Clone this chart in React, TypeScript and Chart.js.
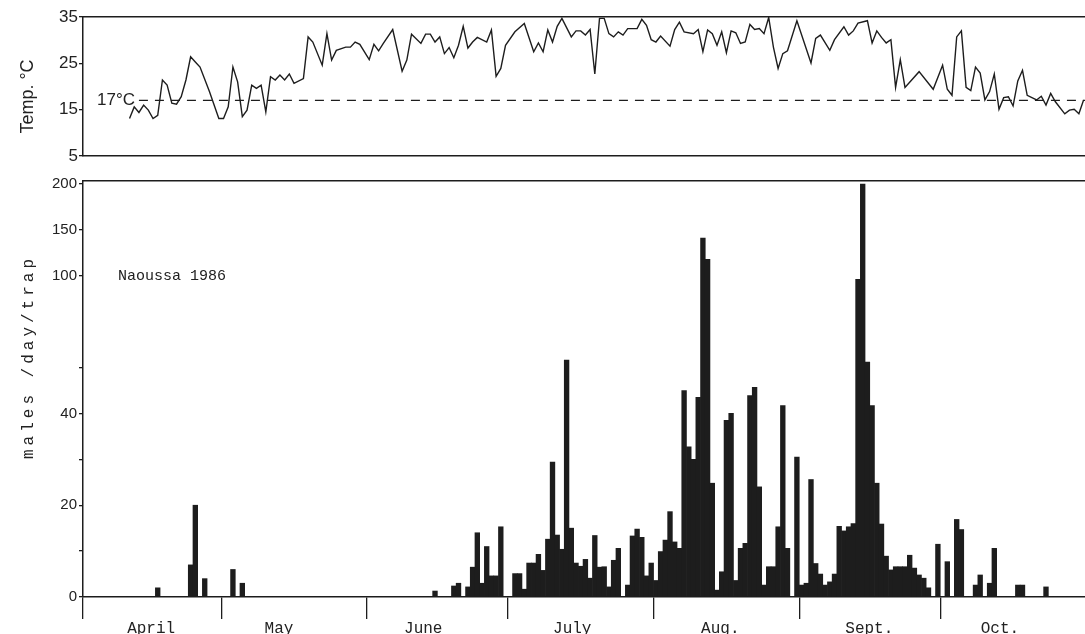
import React, { useEffect, useRef } from 'react';
import { Chart, registerables, LinearScale } from 'chart.js';

Chart.register(...registerables);

// ---------- DATA ----------
// Daily trap catches (males/day/trap), 1 April .. 31 October 1986
const aprilCounts = [0,0,0,0,0,0,0,0,0,0, 0,0,0,0,0,0,2,0,0,0, 0,0,0,7,20,0,4,0,0,0];
const mayCounts = [0,0,6,0,3,0,0,0,0,0, 0,0,0,0,0,0,0,0,0,0, 0,0,0,0,0,0,0,0,0,0, 0];
const juneCounts = [0,0,0,0,0,0,0,0,0,0, 0,0,0,0,1.3,0,0,0,2.4,3, 0,2.2,6.5,14,3,11,4.6,4.6,15.3,0];
const julyCounts = [0,5.1,5.1,1.7,7.4,7.4,9.3,5.8,12.6,29.4, 13.5,10.4,54,15,7.4,6.7,8.2,4.1,13.4,6.5, 6.6,2.2,8,10.6,0,2.6,13.3,14.8,13,4.6, 7.4];
const augCounts = [3.6,9.9,12.4,18.6,12,10.6,45,32.7,30,43.5, 141,118,24.8,1.5,5.5,38.5,40,3.6,10.6,11.7, 43.9,45.7,24,2.6,6.6,6.6,15.3,41.7,10.6,0, 30.5];
const septCounts = [2.6,3,25.6,7.3,5,2.6,3.3,5,15.4,14.4, 15.3,16,98,200,53,41.7,24.8,15.9,8.9,5.9, 6.6,6.6,6.6,9.1,6.3,4.8,4.1,2,0,11.5];
const octCounts = [0,7.7,0,16.9,14.7,0,0,2.6,4.8,0, 3,10.6,0,0,0,0,2.6,2.6,0,0, 0,0,2.2,0,0,0,0,0,0,0, 0];

// Daily temperature (day index from 1 April, °C)
const tempDays = [10,11,12,13,14,15,16,17,18,19,20,21,22,23,24,25,27,29,30,31,32,33,34,35,36,37,38,39,40,41,42,43,44,45,47,48,49,51,52,53,54,56,57,58,59,61,62,63,64,66,68,69,70,72,73,74,75,76,77,78,79,80,81,82,83,84,86,87,88,89,90,92,94,96,97,98,99,100,101,102,104,105,106,107,108,109,110,111,112,113,114,115,116,118,119,120,121,122,123,125,126,127,128,130,131,132,133,134,135,136,137,138,139,140,141,142,143,144,145,146,147,148,149,150,152,155,156,157,159,160,162,163,164,165,167,168,169,170,171,172,173,174,175,178,181,183,184,185,186,187,188,189,190,191,192,193,194,195,196,197,198,199,200,201,203,204,205,206,207,209,210,211,212,213];
const tempValues = [13.1,15.6,14.4,16,14.9,13.1,13.8,21.4,20.3,16.4,16.2,17.8,21.4,26.4,25.3,24.2,18.9,13.1,13.1,15.6,24.2,21,13.5,14.9,20.3,19.6,20.3,14.5,22.1,21.4,22.5,21.4,22.7,20.7,21.7,30.7,29.6,24.6,31.4,25.7,27.8,28.5,28.5,29.6,29.1,25.8,29.1,27.7,29.3,32.3,23.3,25.7,31.3,29.3,31.3,31.3,29.6,30.7,27.1,28.4,26.2,28.9,33,28.3,29.6,30.6,29.6,32.2,22.2,23.9,28.9,31.8,33.6,27.5,29.4,27.5,32.2,29.6,33,34.7,30.7,32,32,31.1,32.3,22.7,34.7,34.7,31.4,30.7,31.8,31.1,32.5,32.5,34.5,33.2,30.1,29.6,30.9,28.7,32.3,33.9,31.8,31.4,32.3,27.5,32.2,31.4,28.9,31.8,27.3,32,31.6,29.3,29.6,33.4,32.3,32.5,31.4,34.9,28.5,23.9,27.1,27.7,34.2,25.1,30.4,31.1,27.8,30.1,32.9,31.1,32,33.7,34.2,29.4,32,30.6,29.4,30.1,19.8,25.8,19.8,23.2,19.4,24.6,19.4,18.1,30.7,32,19.8,19.1,24.2,22.9,17.1,18.9,22.7,15.1,17.6,17.8,15.8,21.2,23.5,18.1,17.1,17.9,16,18.5,16.7,14.1,14.9,15.1,14.1,17.1];

const thresholdTemp = 17;
const thresholdStartDay = 12.5;

const monthNames = ['April', 'May', 'June', 'July', 'Aug.', 'Sept.', 'Oct.'];
const monthStartDays = [30, 61, 91, 122, 153, 183];
const monthLabelDays = [15.1, 42.3, 73, 104.7, 136.2, 167.9, 195.7];

const tempTicks = [5, 15, 25, 35];
const countTickValues = [0, 10, 20, 30, 40, 50, 100, 150, 200];
const countTickLabels = ['0', '', '20', '', '40', '', '100', '150', '200'];

// broken (piecewise) count axis: value -> axis units
const breakValues = [0, 50, 100, 200];
const breakUnits = [0, 50, 70, 90];

const dailyCounts = [...aprilCounts, ...mayCounts, ...juneCounts, ...julyCounts, ...augCounts, ...septCounts, ...octCounts];

const X_MIN = 0.6;
const X_MAX = 213.8;

const INK = '#1d1d1d';
const TEXT = '#222';

function toAxisUnits(v: number) {
  const n = breakValues.length;
  for (let i = 1; i < n; i++) {
    if (v <= breakValues[i] || i === n - 1) {
      const t = (v - breakValues[i - 1]) / (breakValues[i] - breakValues[i - 1]);
      return breakUnits[i - 1] + t * (breakUnits[i] - breakUnits[i - 1]);
    }
  }
  return v;
}
function fromAxisUnits(u: number) {
  const n = breakUnits.length;
  for (let i = 1; i < n; i++) {
    if (u <= breakUnits[i] || i === n - 1) {
      const t = (u - breakUnits[i - 1]) / (breakUnits[i] - breakUnits[i - 1]);
      return breakValues[i - 1] + t * (breakValues[i] - breakValues[i - 1]);
    }
  }
  return u;
}

class BrokenLinearScale extends LinearScale {
  static id = 'brokenLinear';
  static defaults = {};
  getPixelForValue(value: any) {
    return super.getPixelForValue(toAxisUnits(value));
  }
  getValueForPixel(pixel: number) {
    return fromAxisUnits(super.getValueForPixel(pixel) as number);
  }
}
Chart.register(BrokenLinearScale as any);

const topTextPlugin = {
  id: 'topText',
  afterDraw(chart: any) {
    const { ctx, chartArea, scales } = chart;
    const y17 = scales.y.getPixelForValue(thresholdTemp);
    ctx.save();
    ctx.fillStyle = TEXT;
    ctx.font = '17px "Liberation Sans"';
    ctx.textBaseline = 'middle';
    ctx.textAlign = 'left';
    ctx.fillText('17°C', chartArea.left + 14, y17);
    ctx.translate(33, (chartArea.top + chartArea.bottom) / 2 + 10);
    ctx.rotate(-Math.PI / 2);
    ctx.textAlign = 'center';
    ctx.textBaseline = 'alphabetic';
    ctx.font = '18px "Liberation Sans"';
    ctx.fillText('Temp. °C', 0, 0);
    ctx.restore();
  },
};

const bottomTextPlugin = {
  id: 'bottomText',
  afterDraw(chart: any) {
    const { ctx, chartArea, scales } = chart;
    ctx.save();
    ctx.fillStyle = TEXT;
    ctx.font = '15px "Liberation Mono"';
    ctx.textBaseline = 'middle';
    ctx.textAlign = 'left';
    ctx.fillText('Naoussa 1986', chartArea.left + 35, scales.y.getPixelForValue(100));
    ctx.translate(33, chartArea.top + 176);
    ctx.rotate(-Math.PI / 2);
    ctx.textAlign = 'center';
    ctx.textBaseline = 'alphabetic';
    ctx.font = '16px "Liberation Mono"';
    try { (ctx as any).letterSpacing = '4px'; } catch (e) {}
    ctx.fillText('males /day/trap', 0, 0);
    ctx.restore();
  },
};

const borderOnlyX = (position: string) => ({
  type: 'linear',
  position,
  min: X_MIN,
  max: X_MAX,
  offset: false,
  grid: { display: false, drawTicks: false, offset: false },
  ticks: { display: false },
  border: { display: true, color: INK, width: 1.5 },
  afterFit: (s: any) => { s.height = 0; },
});

export default function App() {
  const topRef = useRef<HTMLCanvasElement>(null);
  const bottomRef = useRef<HTMLCanvasElement>(null);

  useEffect(() => {
    const top = new Chart(topRef.current as HTMLCanvasElement, {
      type: 'line',
      data: {
        datasets: [
          {
            data: tempDays.map((d, i) => ({ x: d + 0.5, y: tempValues[i] })),
            borderColor: INK,
            borderWidth: 1.4,
            pointRadius: 0,
            tension: 0,
            fill: false,
          },
          {
            data: [
              { x: thresholdStartDay, y: thresholdTemp },
              { x: X_MAX, y: thresholdTemp },
            ],
            borderColor: INK,
            borderWidth: 1.3,
            borderDash: [9, 7],
            pointRadius: 0,
            fill: false,
          },
        ],
      } as any,
      options: {
        animation: false,
        responsive: false,
        events: [],
        layout: { padding: { top: 17, bottom: 14, left: 0, right: 0 } },
        plugins: { legend: { display: false }, tooltip: { enabled: false } },
        scales: {
          x: borderOnlyX('bottom'),
          xTop: borderOnlyX('top'),
          y: {
            position: 'left',
            min: 5,
            max: 35,
            afterBuildTicks: (s: any) => { s.ticks = tempTicks.map((v) => ({ value: v })); },
            ticks: { font: { family: 'Liberation Sans', size: 17 }, color: TEXT, padding: 1 },
            grid: { drawOnChartArea: false, tickLength: 4, color: INK, lineWidth: 1.3 },
            border: { color: INK, width: 1.5 },
            afterFit: (s: any) => { s.width = 83; },
          },
        },
      } as any,
      plugins: [topTextPlugin],
    });

    const bottom = new Chart(bottomRef.current as HTMLCanvasElement, {
      type: 'bar',
      data: {
        datasets: [
          {
            data: dailyCounts.map((v, i) => ({ x: i + 0.5, y: v })),
            backgroundColor: INK,
            borderWidth: 0,
            barPercentage: 1,
            categoryPercentage: 1,
            xAxisID: 'x',
            yAxisID: 'y',
          },
        ],
      } as any,
      options: {
        animation: false,
        responsive: false,
        events: [],
        layout: { padding: { top: 10, bottom: 0, left: 0, right: 0 } },
        plugins: { legend: { display: false }, tooltip: { enabled: false } },
        scales: {
          x: {
            type: 'linear',
            position: 'bottom',
            min: X_MIN,
            max: X_MAX,
            offset: false,
            grid: { drawOnChartArea: false, offset: false, tickLength: 22, color: INK, lineWidth: 1.3 },
            border: { color: INK, width: 1.5 },
            ticks: { autoSkip: false, padding: 0, callback: () => '' },
            afterBuildTicks: (s: any) => {
              s.ticks = [X_MIN, ...monthStartDays].map((v) => ({ value: v }));
            },
            afterFit: (s: any) => { s.height = 22; },
          },
          months: {
            type: 'linear',
            position: 'bottom',
            min: X_MIN,
            max: X_MAX,
            offset: false,
            grid: { display: false, drawTicks: false, offset: false },
            border: { display: false },
            ticks: {
              autoSkip: false,
              maxRotation: 0,
              padding: 0,
              font: { family: 'Liberation Mono', size: 16 },
              color: TEXT,
              callback: (v: any) => {
                const i = monthLabelDays.indexOf(v);
                return i >= 0 ? monthNames[i] : '';
              },
            },
            afterBuildTicks: (s: any) => { s.ticks = monthLabelDays.map((v) => ({ value: v })); },
            afterFit: (s: any) => { s.height = 15; },
          },
          xTop: borderOnlyX('top'),
          y: {
            type: 'brokenLinear',
            position: 'left',
            min: 0,
            max: 90.65,
            bounds: 'data',
            afterBuildTicks: (s: any) => { s.ticks = countTickValues.map((v) => ({ value: v })); },
            ticks: {
              autoSkip: false,
              font: { family: 'Liberation Sans', size: 15 },
              color: TEXT,
              padding: 2,
              callback: (v: any) => {
                const i = countTickValues.indexOf(v);
                return i >= 0 ? countTickLabels[i] : '';
              },
            },
            grid: { drawOnChartArea: false, tickLength: 4, color: INK, lineWidth: 1.3 },
            border: { color: INK, width: 1.5 },
            afterFit: (s: any) => { s.width = 83; },
          },
        },
      } as any,
      plugins: [bottomTextPlugin],
    });

    return () => {
      top.destroy();
      bottom.destroy();
    };
  }, []);

  return (
    <div style={{ position: 'fixed', left: 0, top: 0, width: 1085, height: 634, background: '#fff', overflow: 'hidden' }}>
      <canvas ref={topRef} width={1085} height={170} style={{ position: 'absolute', left: 0, top: 0 }} />
      <canvas ref={bottomRef} width={1085} height={464} style={{ position: 'absolute', left: 0, top: 170 }} />
    </div>
  );
}
